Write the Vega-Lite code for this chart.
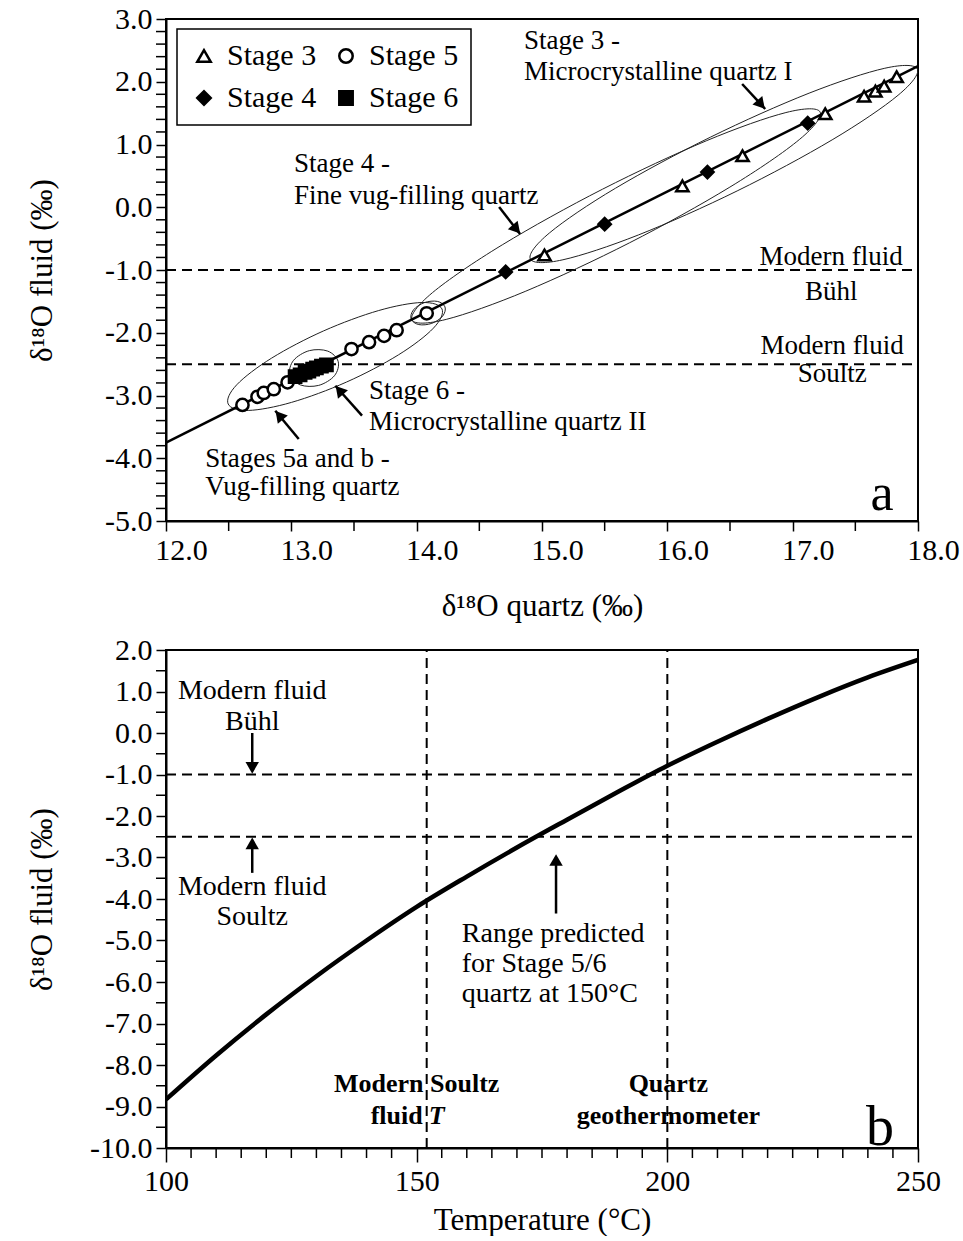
{
  "$schema": "https://vega.github.io/schema/vega-lite/v6.json",
  "background": "white",
  "padding": {"left": 25, "top": 3, "right": 0, "bottom": 0},
  "spacing": 12,
  "datasets": {
    "stages": [
      {"stage": "Stage 3", "x": 15.02, "y": -0.76},
      {"stage": "Stage 3", "x": 16.12, "y": 0.34},
      {"stage": "Stage 3", "x": 16.60, "y": 0.82},
      {"stage": "Stage 3", "x": 17.26, "y": 1.49},
      {"stage": "Stage 3", "x": 17.57, "y": 1.77},
      {"stage": "Stage 3", "x": 17.66, "y": 1.85},
      {"stage": "Stage 3", "x": 17.73, "y": 1.93},
      {"stage": "Stage 3", "x": 17.83, "y": 2.08},
      {"stage": "Stage 4", "x": 14.71, "y": -1.03},
      {"stage": "Stage 4", "x": 15.50, "y": -0.27},
      {"stage": "Stage 4", "x": 16.32, "y": 0.56},
      {"stage": "Stage 4", "x": 17.12, "y": 1.34},
      {"stage": "Stage 5", "x": 12.61, "y": -3.15},
      {"stage": "Stage 5", "x": 12.73, "y": -3.02},
      {"stage": "Stage 5", "x": 12.78, "y": -2.96},
      {"stage": "Stage 5", "x": 12.86, "y": -2.90},
      {"stage": "Stage 5", "x": 12.97, "y": -2.79},
      {"stage": "Stage 5", "x": 13.48, "y": -2.26},
      {"stage": "Stage 5", "x": 13.62, "y": -2.15},
      {"stage": "Stage 5", "x": 13.74, "y": -2.05},
      {"stage": "Stage 5", "x": 13.84, "y": -1.96},
      {"stage": "Stage 5", "x": 14.08, "y": -1.69},
      {"stage": "Stage 6", "x": 13.03, "y": -2.70},
      {"stage": "Stage 6", "x": 13.07, "y": -2.67},
      {"stage": "Stage 6", "x": 13.11, "y": -2.63},
      {"stage": "Stage 6", "x": 13.14, "y": -2.61},
      {"stage": "Stage 6", "x": 13.17, "y": -2.58},
      {"stage": "Stage 6", "x": 13.20, "y": -2.56},
      {"stage": "Stage 6", "x": 13.24, "y": -2.53},
      {"stage": "Stage 6", "x": 13.28, "y": -2.51}
    ],
    "ellipses": [
      {"e": 1, "i": 0, "x": 17.995, "y": 2.203},
      {"e": 1, "i": 1, "x": 17.841, "y": 1.785},
      {"e": 1, "i": 2, "x": 17.315, "y": 1.074},
      {"e": 1, "i": 3, "x": 16.557, "y": 0.260},
      {"e": 1, "i": 4, "x": 15.771, "y": -0.440},
      {"e": 1, "i": 5, "x": 15.167, "y": -0.837},
      {"e": 1, "i": 6, "x": 14.907, "y": -0.825},
      {"e": 1, "i": 7, "x": 15.061, "y": -0.407},
      {"e": 1, "i": 8, "x": 15.587, "y": 0.304},
      {"e": 1, "i": 9, "x": 16.345, "y": 1.118},
      {"e": 1, "i": 10, "x": 17.131, "y": 1.818},
      {"e": 1, "i": 11, "x": 17.735, "y": 2.215},
      {"e": 2, "i": 0, "x": 17.219, "y": 1.518},
      {"e": 2, "i": 1, "x": 17.056, "y": 1.083},
      {"e": 2, "i": 2, "x": 16.499, "y": 0.321},
      {"e": 2, "i": 3, "x": 15.700, "y": -0.565},
      {"e": 2, "i": 4, "x": 14.871, "y": -1.337},
      {"e": 2, "i": 5, "x": 14.236, "y": -1.787},
      {"e": 2, "i": 6, "x": 13.963, "y": -1.796},
      {"e": 2, "i": 7, "x": 14.126, "y": -1.361},
      {"e": 2, "i": 8, "x": 14.683, "y": -0.599},
      {"e": 2, "i": 9, "x": 15.482, "y": 0.287},
      {"e": 2, "i": 10, "x": 16.311, "y": 1.059},
      {"e": 2, "i": 11, "x": 16.946, "y": 1.509},
      {"e": 3, "i": 0, "x": 14.202, "y": -1.621},
      {"e": 3, "i": 1, "x": 14.134, "y": -1.926},
      {"e": 3, "i": 2, "x": 13.855, "y": -2.352},
      {"e": 3, "i": 3, "x": 13.440, "y": -2.786},
      {"e": 3, "i": 4, "x": 13.001, "y": -3.110},
      {"e": 3, "i": 5, "x": 12.656, "y": -3.238},
      {"e": 3, "i": 6, "x": 12.496, "y": -3.135},
      {"e": 3, "i": 7, "x": 12.564, "y": -2.830},
      {"e": 3, "i": 8, "x": 12.843, "y": -2.404},
      {"e": 3, "i": 9, "x": 13.258, "y": -1.970},
      {"e": 3, "i": 10, "x": 13.697, "y": -1.646},
      {"e": 3, "i": 11, "x": 14.042, "y": -1.518},
      {"e": 4, "i": 0, "x": 14.226, "y": -1.588},
      {"e": 4, "i": 1, "x": 14.208, "y": -1.733},
      {"e": 4, "i": 2, "x": 14.121, "y": -1.850},
      {"e": 4, "i": 3, "x": 14.017, "y": -1.870},
      {"e": 4, "i": 4, "x": 13.956, "y": -1.782},
      {"e": 4, "i": 5, "x": 13.974, "y": -1.637},
      {"e": 4, "i": 6, "x": 14.061, "y": -1.520},
      {"e": 4, "i": 7, "x": 14.165, "y": -1.500},
      {"e": 5, "i": 0, "x": 13.374, "y": -2.459},
      {"e": 5, "i": 1, "x": 13.344, "y": -2.685},
      {"e": 5, "i": 2, "x": 13.218, "y": -2.839},
      {"e": 5, "i": 3, "x": 13.071, "y": -2.831},
      {"e": 5, "i": 4, "x": 12.988, "y": -2.665},
      {"e": 5, "i": 5, "x": 13.018, "y": -2.439},
      {"e": 5, "i": 6, "x": 13.144, "y": -2.285},
      {"e": 5, "i": 7, "x": 13.291, "y": -2.293}
    ],
    "minorYA": [
      {"y": -4.8}, {"y": -4.6}, {"y": -4.4}, {"y": -4.2},
      {"y": -3.8}, {"y": -3.6}, {"y": -3.4}, {"y": -3.2},
      {"y": -2.8}, {"y": -2.6}, {"y": -2.4}, {"y": -2.2},
      {"y": -1.8}, {"y": -1.6}, {"y": -1.4}, {"y": -1.2},
      {"y": -0.8}, {"y": -0.6}, {"y": -0.4}, {"y": -0.2},
      {"y": 0.2}, {"y": 0.4}, {"y": 0.6}, {"y": 0.8},
      {"y": 1.2}, {"y": 1.4}, {"y": 1.6}, {"y": 1.8},
      {"y": 2.2}, {"y": 2.4}, {"y": 2.6}, {"y": 2.8}
    ],
    "minorXA": [
      {"x": 12.5}, {"x": 13.5}, {"x": 14.5}, {"x": 15.5}, {"x": 16.5}, {"x": 17.5}
    ],
    "minorYB": [
      {"y": -9.5}, {"y": -8.5}, {"y": -7.5}, {"y": -6.5}, {"y": -5.5}, {"y": -4.5},
      {"y": -3.5}, {"y": -2.5}, {"y": -1.5}, {"y": -0.5}, {"y": 0.5}, {"y": 1.5}
    ],
    "minorXB": [
      {"x": 105}, {"x": 110}, {"x": 115}, {"x": 120}, {"x": 125}, {"x": 130}, {"x": 135}, {"x": 140}, {"x": 145},
      {"x": 155}, {"x": 160}, {"x": 165}, {"x": 170}, {"x": 175}, {"x": 180}, {"x": 185}, {"x": 190}, {"x": 195},
      {"x": 205}, {"x": 210}, {"x": 215}, {"x": 220}, {"x": 225}, {"x": 230}, {"x": 235}, {"x": 240}, {"x": 245}
    ],
    "fitA": [{"x": 12.0, "y": -3.75}, {"x": 18.0, "y": 2.25}],
    "refA": [{"x": 12, "x2": 18, "y": -1.0}, {"x": 12, "x2": 18, "y": -2.5}],
    "arrowsA": [
      {"x": 16.597, "y": 1.964, "x2": 16.781, "y2": 1.566},
      {"x": 14.658, "y": 0.004, "x2": 14.825, "y2": -0.426},
      {"x": 13.564, "y": -3.322, "x2": 13.351, "y2": -2.844},
      {"x": 13.059, "y": -3.693, "x2": 12.872, "y2": -3.242}
    ],
    "headsSE": [{"x": 16.748, "y": 1.636}, {"x": 14.796, "y": -0.351}],
    "headsNW": [{"x": 13.383, "y": -2.916}, {"x": 12.903, "y": -3.316}],
    "textLeftA": [
      {"x": 14.857, "y": 2.649, "t": "Stage 3 -"},
      {"x": 14.857, "y": 2.155, "t": "Microcrystalline quartz I"},
      {"x": 13.022, "y": 0.689, "t": "Stage 4 -"},
      {"x": 13.022, "y": 0.179, "t": "Fine vug-filling quartz"},
      {"x": 13.620, "y": -2.923, "t": "Stage 6 -"},
      {"x": 13.620, "y": -3.427, "t": "Microcrystalline quartz II"},
      {"x": 12.314, "y": -4.012, "t": "Stages 5a and b -"},
      {"x": 12.314, "y": -4.463, "t": "Vug-filling quartz"}
    ],
    "textCenterA": [
      {"x": 17.307, "y": -0.793, "t": "Modern fluid"},
      {"x": 17.307, "y": -1.351, "t": "Bühl"},
      {"x": 17.315, "y": -2.211, "t": "Modern fluid"},
      {"x": 17.315, "y": -2.657, "t": "Soultz"}
    ],
    "letterA": [{"x": 17.714, "y": -4.57, "t": "a"}],
    "refBh": [{"x": 100, "x2": 250, "y": -1.0}, {"x": 100, "x2": 250, "y": -2.5}],
    "refBv": [{"x": 152, "y": -10, "y2": 2}, {"x": 200, "y": -10, "y2": 2}],
    "curve": [
      {"x": 100, "y": -8.83},
      {"x": 110, "y": -7.77},
      {"x": 120, "y": -6.78},
      {"x": 130, "y": -5.86},
      {"x": 140, "y": -5.00},
      {"x": 150, "y": -4.19},
      {"x": 160, "y": -3.46},
      {"x": 170, "y": -2.76},
      {"x": 180, "y": -2.09},
      {"x": 190, "y": -1.43},
      {"x": 200, "y": -0.79},
      {"x": 210, "y": -0.21},
      {"x": 220, "y": 0.34},
      {"x": 230, "y": 0.86},
      {"x": 240, "y": 1.34},
      {"x": 250, "y": 1.76}
    ],
    "arrowsB": [
      {"x": 117.2, "y": 0.0, "x2": 117.2, "y2": -0.9},
      {"x": 117.2, "y": -3.37, "x2": 117.2, "y2": -2.6},
      {"x": 177.8, "y": -4.35, "x2": 177.8, "y2": -3.0}
    ],
    "headsDown": [{"x": 117.2, "y": -0.84}],
    "headsUp": [{"x": 117.2, "y": -2.66}, {"x": 177.8, "y": -3.06}],
    "textCenterB": [
      {"x": 117.2, "y": 1.01, "t": "Modern fluid"},
      {"x": 117.2, "y": 0.27, "t": "Bühl"},
      {"x": 117.2, "y": -3.71, "t": "Modern fluid"},
      {"x": 117.2, "y": -4.43, "t": "Soultz"}
    ],
    "textLeftB": [
      {"x": 159.0, "y": -4.84, "t": "Range predicted"},
      {"x": 159.0, "y": -5.56, "t": "for Stage 5/6"},
      {"x": 159.0, "y": -6.28, "t": "quartz at 150°C"}
    ],
    "boldCenterB": [
      {"x": 150.0, "y": -8.45, "t": "Modern Soultz"},
      {"x": 200.2, "y": -8.45, "t": "Quartz"},
      {"x": 200.2, "y": -9.22, "t": "geothermometer"}
    ],
    "boldRightB": [{"x": 151.2, "y": -9.22, "t": "fluid"}],
    "italicB": [{"x": 152.4, "y": -9.22, "t": "T"}],
    "letterB": [{"x": 242.4, "y": -9.52, "t": "b"}]
  },
  "vconcat": [
    {
      "width": 752,
      "height": 502,
      "layer": [
        {
          "data": {"name": "refA"},
          "mark": {"type": "rule", "color": "black", "strokeWidth": 2, "strokeDash": [10, 6]},
          "encoding": {
            "x": {
              "field": "x", "type": "quantitative",
              "scale": {"domain": [12, 18], "nice": false, "zero": false},
              "axis": {
                "title": "δ¹⁸O quartz (‰)",
                "values": [12, 13, 14, 15, 16, 17, 18],
                "format": ".1f",
                "labelOffset": 15,
                "titleY": 85,
                "titleBaseline": "middle"
              }
            },
            "x2": {"field": "x2"},
            "y": {
              "field": "y", "type": "quantitative",
              "scale": {"domain": [-5, 3], "nice": false, "zero": false},
              "axis": {
                "title": "δ¹⁸O fluid (‰)",
                "values": [-5, -4, -3, -2, -1, 0, 1, 2, 3],
                "labelExpr": "replace(format(datum.value, '.1f'), '\u2212', '-')",
                "titleX": -124,
                "titleBaseline": "middle"
              }
            }
          }
        },
        {
          "data": {"name": "minorYA"},
          "mark": {"type": "rule", "color": "black", "strokeWidth": 1.5, "xOffset": -10, "x2Offset": 0},
          "encoding": {
            "x": {"datum": 12, "type": "quantitative"},
            "x2": {"datum": 12},
            "y": {"field": "y", "type": "quantitative"}
          }
        },
        {
          "data": {"name": "minorXA"},
          "mark": {"type": "rule", "color": "black", "strokeWidth": 1.5, "yOffset": 0, "y2Offset": 10},
          "encoding": {
            "x": {"field": "x", "type": "quantitative"},
            "y": {"datum": -5, "type": "quantitative"},
            "y2": {"datum": -5}
          }
        },
        {
          "data": {"name": "ellipses"},
          "mark": {"type": "line", "interpolate": "cardinal-closed", "color": "#222222", "strokeWidth": 1, "clip": true},
          "encoding": {
            "x": {"field": "x", "type": "quantitative"},
            "y": {"field": "y", "type": "quantitative"},
            "detail": {"field": "e"},
            "order": {"field": "i", "type": "quantitative"}
          }
        },
        {
          "data": {"name": "fitA"},
          "mark": {"type": "line", "color": "black", "strokeWidth": 2.5, "clip": true},
          "encoding": {
            "x": {"field": "x", "type": "quantitative"},
            "y": {"field": "y", "type": "quantitative"}
          }
        },
        {
          "data": {"name": "stages"},
          "mark": {"type": "point", "filled": true, "strokeWidth": 2.5, "size": 150, "opacity": 1},
          "encoding": {
            "x": {"field": "x", "type": "quantitative"},
            "y": {"field": "y", "type": "quantitative"},
            "shape": {
              "field": "stage", "type": "nominal",
              "scale": {"domain": ["Stage 3", "Stage 4", "Stage 5", "Stage 6"], "range": ["triangle-up", "diamond", "circle", "square"]},
              "legend": {
                "title": null, "orient": "none", "legendX": 11, "legendY": 10, "columns": 2,
                "symbolStrokeWidth": 2.5
              }
            },
            "fill": {
              "field": "stage", "type": "nominal",
              "scale": {"domain": ["Stage 3", "Stage 4", "Stage 5", "Stage 6"], "range": ["white", "black", "white", "black"]},
              "legend": {
                "title": null, "orient": "none", "legendX": 11, "legendY": 10, "columns": 2,
                "symbolStrokeWidth": 2.5
              }
            },
            "stroke": {
              "field": "stage", "type": "nominal",
              "scale": {"domain": ["Stage 3", "Stage 4", "Stage 5", "Stage 6"], "range": ["black", "black", "black", "black"]},
              "legend": {
                "title": null, "orient": "none", "legendX": 11, "legendY": 10, "columns": 2,
                "symbolStrokeWidth": 2.5
              }
            }
          }
        },
        {
          "data": {"name": "arrowsA"},
          "mark": {"type": "rule", "color": "black", "strokeWidth": 2.5},
          "encoding": {
            "x": {"field": "x", "type": "quantitative"},
            "y": {"field": "y", "type": "quantitative"},
            "x2": {"field": "x2"},
            "y2": {"field": "y2"}
          }
        },
        {
          "data": {"name": "headsSE"},
          "mark": {"type": "point", "shape": "triangle-up", "filled": true, "color": "black", "size": 170, "angle": 139, "opacity": 1},
          "encoding": {
            "x": {"field": "x", "type": "quantitative"},
            "y": {"field": "y", "type": "quantitative"}
          }
        },
        {
          "data": {"name": "headsNW"},
          "mark": {"type": "point", "shape": "triangle-up", "filled": true, "color": "black", "size": 170, "angle": 320, "opacity": 1},
          "encoding": {
            "x": {"field": "x", "type": "quantitative"},
            "y": {"field": "y", "type": "quantitative"}
          }
        },
        {
          "data": {"name": "textLeftA"},
          "mark": {"type": "text", "align": "left", "baseline": "middle", "fontSize": 27, "font": "Liberation Serif", "color": "black"},
          "encoding": {
            "x": {"field": "x", "type": "quantitative"},
            "y": {"field": "y", "type": "quantitative"},
            "text": {"field": "t"}
          }
        },
        {
          "data": {"name": "textCenterA"},
          "mark": {"type": "text", "align": "center", "baseline": "middle", "fontSize": 27, "font": "Liberation Serif", "color": "black"},
          "encoding": {
            "x": {"field": "x", "type": "quantitative"},
            "y": {"field": "y", "type": "quantitative"},
            "text": {"field": "t"}
          }
        },
        {
          "data": {"name": "letterA"},
          "mark": {"type": "text", "align": "center", "baseline": "middle", "fontSize": 52, "font": "Liberation Serif", "color": "black"},
          "encoding": {
            "x": {"field": "x", "type": "quantitative"},
            "y": {"field": "y", "type": "quantitative"},
            "text": {"field": "t"}
          }
        }
      ]
    },
    {
      "width": 752,
      "height": 498,
      "layer": [
        {
          "data": {"name": "refBh"},
          "mark": {"type": "rule", "color": "black", "strokeWidth": 2, "strokeDash": [10, 6]},
          "encoding": {
            "x": {
              "field": "x", "type": "quantitative",
              "scale": {"domain": [100, 250], "nice": false, "zero": false},
              "axis": {
                "title": "Temperature (°C)",
                "values": [100, 150, 200, 250],
                "format": "d",
                "tickSize": 14,
                "titleY": 72,
                "titleBaseline": "middle"
              }
            },
            "x2": {"field": "x2"},
            "y": {
              "field": "y", "type": "quantitative",
              "scale": {"domain": [-10, 2], "nice": false, "zero": false},
              "axis": {
                "title": "δ¹⁸O fluid (‰)",
                "values": [-10, -9, -8, -7, -6, -5, -4, -3, -2, -1, 0, 1, 2],
                "labelExpr": "replace(format(datum.value, '.1f'), '\u2212', '-')",
                "titleX": -124,
                "titleBaseline": "middle"
              }
            }
          }
        },
        {
          "data": {"name": "minorYB"},
          "mark": {"type": "rule", "color": "black", "strokeWidth": 1.5, "xOffset": -10, "x2Offset": 0},
          "encoding": {
            "x": {"datum": 100, "type": "quantitative"},
            "x2": {"datum": 100},
            "y": {"field": "y", "type": "quantitative"}
          }
        },
        {
          "data": {"name": "minorXB"},
          "mark": {"type": "rule", "color": "black", "strokeWidth": 1.5, "yOffset": 0, "y2Offset": 10},
          "encoding": {
            "x": {"field": "x", "type": "quantitative"},
            "y": {"datum": -10, "type": "quantitative"},
            "y2": {"datum": -10}
          }
        },
        {
          "data": {"name": "refBv"},
          "mark": {"type": "rule", "color": "black", "strokeWidth": 2, "strokeDash": [10, 6]},
          "encoding": {
            "x": {"field": "x", "type": "quantitative"},
            "y": {"field": "y", "type": "quantitative"},
            "y2": {"field": "y2"}
          }
        },
        {
          "data": {"name": "curve"},
          "mark": {"type": "line", "color": "black", "strokeWidth": 4.5, "interpolate": "monotone", "clip": true},
          "encoding": {
            "x": {"field": "x", "type": "quantitative"},
            "y": {"field": "y", "type": "quantitative"}
          }
        },
        {
          "data": {"name": "arrowsB"},
          "mark": {"type": "rule", "color": "black", "strokeWidth": 2.5},
          "encoding": {
            "x": {"field": "x", "type": "quantitative"},
            "y": {"field": "y", "type": "quantitative"},
            "x2": {"field": "x2"},
            "y2": {"field": "y2"}
          }
        },
        {
          "data": {"name": "headsDown"},
          "mark": {"type": "point", "shape": "triangle-up", "filled": true, "color": "black", "size": 180, "angle": 180, "opacity": 1},
          "encoding": {
            "x": {"field": "x", "type": "quantitative"},
            "y": {"field": "y", "type": "quantitative"}
          }
        },
        {
          "data": {"name": "headsUp"},
          "mark": {"type": "point", "shape": "triangle-up", "filled": true, "color": "black", "size": 180, "angle": 0, "opacity": 1},
          "encoding": {
            "x": {"field": "x", "type": "quantitative"},
            "y": {"field": "y", "type": "quantitative"}
          }
        },
        {
          "data": {"name": "textCenterB"},
          "mark": {"type": "text", "align": "center", "baseline": "middle", "fontSize": 28, "font": "Liberation Serif", "color": "black"},
          "encoding": {
            "x": {"field": "x", "type": "quantitative"},
            "y": {"field": "y", "type": "quantitative"},
            "text": {"field": "t"}
          }
        },
        {
          "data": {"name": "textLeftB"},
          "mark": {"type": "text", "align": "left", "baseline": "middle", "fontSize": 28, "font": "Liberation Serif", "color": "black"},
          "encoding": {
            "x": {"field": "x", "type": "quantitative"},
            "y": {"field": "y", "type": "quantitative"},
            "text": {"field": "t"}
          }
        },
        {
          "data": {"name": "boldCenterB"},
          "mark": {"type": "text", "align": "center", "baseline": "middle", "fontSize": 26, "fontWeight": "bold", "font": "Liberation Serif", "color": "black"},
          "encoding": {
            "x": {"field": "x", "type": "quantitative"},
            "y": {"field": "y", "type": "quantitative"},
            "text": {"field": "t"}
          }
        },
        {
          "data": {"name": "boldRightB"},
          "mark": {"type": "text", "align": "right", "baseline": "middle", "fontSize": 26, "fontWeight": "bold", "font": "Liberation Serif", "color": "black"},
          "encoding": {
            "x": {"field": "x", "type": "quantitative"},
            "y": {"field": "y", "type": "quantitative"},
            "text": {"field": "t"}
          }
        },
        {
          "data": {"name": "italicB"},
          "mark": {"type": "text", "align": "left", "baseline": "middle", "fontSize": 26, "fontWeight": "bold", "fontStyle": "italic", "font": "Liberation Serif", "color": "black"},
          "encoding": {
            "x": {"field": "x", "type": "quantitative"},
            "y": {"field": "y", "type": "quantitative"},
            "text": {"field": "t"}
          }
        },
        {
          "data": {"name": "letterB"},
          "mark": {"type": "text", "align": "center", "baseline": "middle", "fontSize": 56, "font": "Liberation Serif", "color": "black"},
          "encoding": {
            "x": {"field": "x", "type": "quantitative"},
            "y": {"field": "y", "type": "quantitative"},
            "text": {"field": "t"}
          }
        }
      ]
    }
  ],
  "config": {
    "font": "Liberation Serif",
    "view": {"stroke": "black", "strokeWidth": 2},
    "axis": {
      "domainColor": "black", "domainWidth": 2,
      "tickColor": "black", "tickWidth": 1.5, "tickSize": 10,
      "grid": false,
      "labelFont": "Liberation Serif", "labelFontSize": 30, "labelColor": "black", "labelPadding": 4,
      "labelOverlap": false, "labelFlush": false,
      "titleFont": "Liberation Serif", "titleFontSize": 31, "titleFontWeight": "normal", "titleColor": "black"
    },
    "legend": {
      "labelFont": "Liberation Serif", "labelFontSize": 30, "labelColor": "black",
      "symbolStrokeColor": "black", "symbolStrokeWidth": 2.5, "symbolSize": 180,
      "strokeColor": "black", "strokeWidth": 1.5, "fillColor": "white",
      "padding": 12, "rowPadding": 12, "columnPadding": 14, "labelOffset": 8
    }
  }
}
